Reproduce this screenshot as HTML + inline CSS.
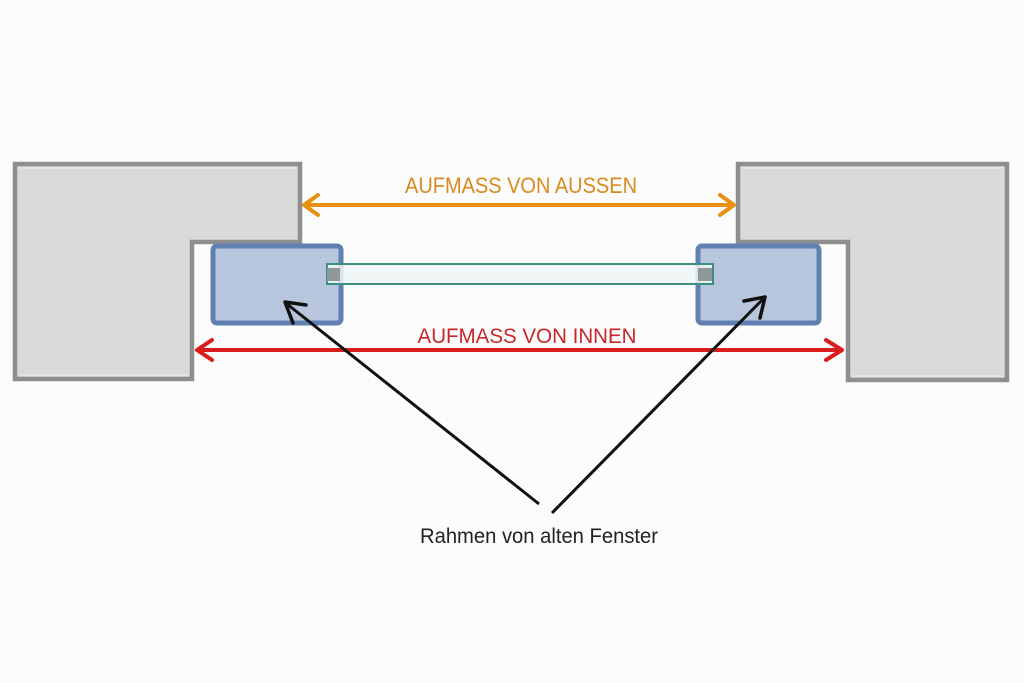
<!DOCTYPE html>
<html><head><meta charset="utf-8"><style>
html,body{margin:0;padding:0;background:#fcfcfc;}
svg{display:block;}
</style></head><body>
<svg width="1024" height="683" viewBox="0 0 1024 683" xmlns="http://www.w3.org/2000/svg">
<rect width="1024" height="683" fill="#fcfcfc"/>
<!-- Left wall -->
<path d="M15,164 L300,164 L300,242 L192,242 L192,379 L15,379 Z" fill="#d9d9d9" stroke="#8e8e8e" stroke-width="4.5" stroke-linejoin="miter"/>
<path d="M19,168 L296,168 M19,375 L188,375" stroke="#f0f0f0" stroke-width="1.2" fill="none" opacity="0.8"/>
<!-- Right wall -->
<path d="M738,164 L1007,164 L1007,380 L848,380 L848,242 L738,242 Z" fill="#d9d9d9" stroke="#8e8e8e" stroke-width="4.5" stroke-linejoin="miter"/>
<path d="M742,168 L1003,168 M852,376 L1003,376" stroke="#f0f0f0" stroke-width="1.2" fill="none" opacity="0.8"/>
<!-- Blue frames -->
<rect x="213" y="246" width="128" height="77" rx="4" fill="#b7c6dc" stroke="#5f80b0" stroke-width="5"/>
<rect x="698" y="246" width="121" height="77" rx="4" fill="#b7c6dc" stroke="#5f80b0" stroke-width="5"/>
<!-- Glass -->
<rect x="327" y="264" width="386" height="20" fill="#eef6f5" fill-opacity="0.85" stroke="#3f8f80" stroke-width="2"/>
<rect x="327" y="268" width="13" height="13" fill="#8f9a98"/>
<rect x="698" y="268" width="14" height="13" fill="#8f9a98"/>
<!-- Orange arrow -->
<line x1="306" y1="205" x2="732" y2="205" stroke="#e8900f" stroke-width="4"/>
<path d="M318,195 L304,205 L318,215" fill="none" stroke="#e8900f" stroke-width="4" stroke-linecap="round" stroke-linejoin="round"/>
<path d="M720,195 L734,205 L720,215" fill="none" stroke="#e8900f" stroke-width="4" stroke-linecap="round" stroke-linejoin="round"/>
<text x="521" y="193" text-anchor="middle" font-family="Liberation Sans, sans-serif" font-size="22" fill="#d98a1e" textLength="232" lengthAdjust="spacingAndGlyphs">AUFMASS VON AUSSEN</text>
<!-- Red arrow -->
<line x1="198" y1="350" x2="840" y2="350" stroke="#d91c1c" stroke-width="4"/>
<path d="M212,340 L197,350 L212,360" fill="none" stroke="#d91c1c" stroke-width="4" stroke-linecap="round" stroke-linejoin="round"/>
<path d="M826,340 L842,350 L826,360" fill="none" stroke="#d91c1c" stroke-width="4" stroke-linecap="round" stroke-linejoin="round"/>
<text x="527" y="343" text-anchor="middle" font-family="Liberation Sans, sans-serif" font-size="21" fill="#c8262a" textLength="219" lengthAdjust="spacingAndGlyphs">AUFMASS VON INNEN</text>
<!-- Black arrows -->
<line x1="539" y1="504" x2="287" y2="304" stroke="#111" stroke-width="3"/>
<path d="M306,305 L285,302 L293,323" fill="none" stroke="#111" stroke-width="3.5" stroke-linecap="round" stroke-linejoin="round"/>
<line x1="552" y1="513" x2="763" y2="299" stroke="#111" stroke-width="3"/>
<path d="M744,301 L765,297 L760,318" fill="none" stroke="#111" stroke-width="3.5" stroke-linecap="round" stroke-linejoin="round"/>
<text x="539" y="543" text-anchor="middle" font-family="Liberation Sans, sans-serif" font-size="21" fill="#222" textLength="238" lengthAdjust="spacingAndGlyphs">Rahmen von alten Fenster</text>
</svg>
</body></html>
